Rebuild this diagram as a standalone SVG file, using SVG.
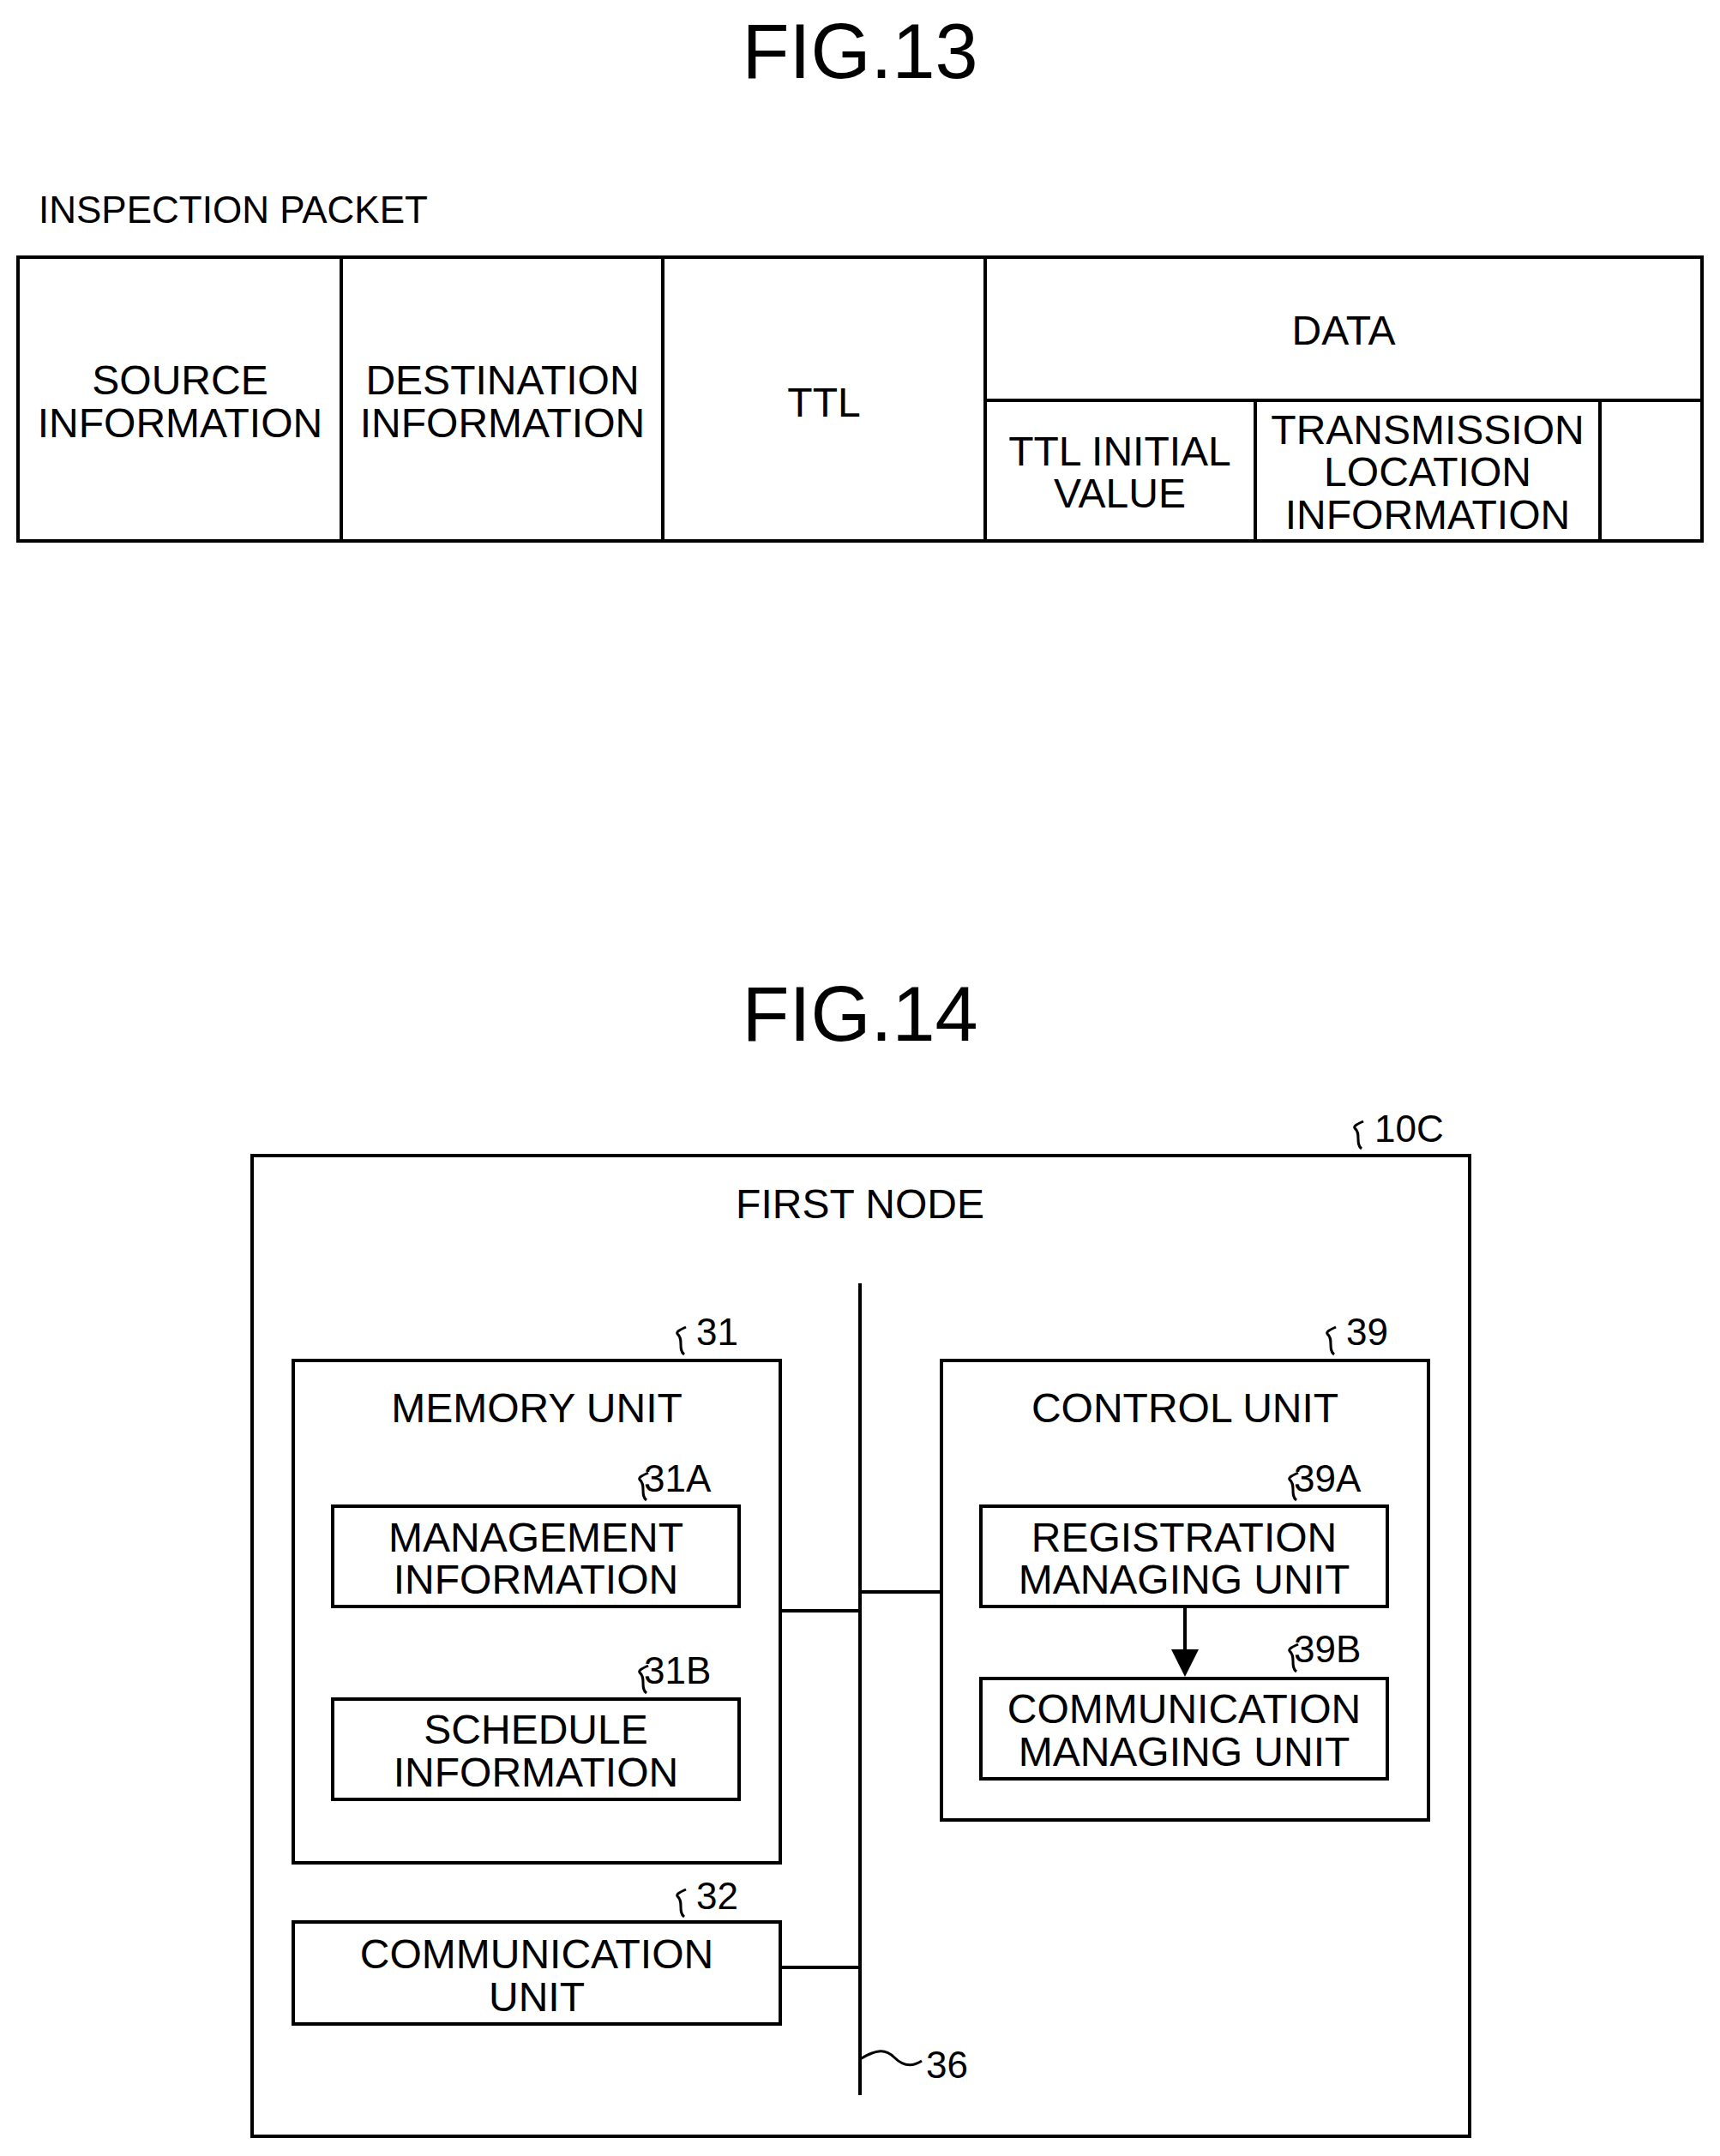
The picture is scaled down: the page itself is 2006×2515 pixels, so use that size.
<svg xmlns="http://www.w3.org/2000/svg" width="2006" height="2515" viewBox="0 0 2006 2515">
<style>
text{font-family:"Liberation Sans",Arial,sans-serif;fill:#000}
.t{font-size:48px;text-anchor:middle;dominant-baseline:central}
.ttl{font-size:90px;text-anchor:middle;dominant-baseline:central}
.lb{font-size:44px;dominant-baseline:central}
.b{fill:none;stroke:#000;stroke-width:4}
.l{fill:none;stroke:#000;stroke-width:4}
.s{fill:none;stroke:#000;stroke-width:3}
</style>
<defs><marker id="ar" markerWidth="8" markerHeight="8" refX="7" refY="4" orient="auto" markerUnits="strokeWidth"><path d="M0,0 L8,4 L0,8 z" fill="#000"/></marker></defs>
<g id="fig13">
<text class="ttl" x="1003" y="60">FIG.13</text>
<text class="lb" x="45" y="244">INSPECTION PACKET</text>
<rect class="b" x="21" y="300" width="1964" height="331"/>
<path class="l" d="M398,300V631M773,300V631M1149,300V631M1149,467H1985M1464,467V631M1866,467V631"/>
<text class="t" x="210" y="443">SOURCE</text><text class="t" x="210" y="493">INFORMATION</text>
<text class="t" x="586" y="443">DESTINATION</text><text class="t" x="586" y="493">INFORMATION</text>
<text class="t" x="961" y="469">TTL</text>
<text class="t" x="1567" y="385">DATA</text>
<text class="t" x="1306" y="526">TTL INITIAL</text><text class="t" x="1306" y="575">VALUE</text>
<text class="t" x="1665" y="501">TRANSMISSION</text><text class="t" x="1665" y="550">LOCATION</text><text class="t" x="1665" y="600">INFORMATION</text>
</g>
<g id="fig14">
<text class="ttl" x="1003" y="1183">FIG.14</text>
<g id="n10C"><rect class="b" x="294" y="1348" width="1420" height="1144"/><text class="t" x="1003" y="1404">FIRST NODE</text>
<path class="s" d="M1588,1340c-8,-6 0,-18 -8,-24c-2,-3 6,-6 10,-8"/><text class="lb" x="1603" y="1316">10C</text></g>
<g id="n31"><rect class="b" x="342" y="1587" width="568" height="586"/><text class="t" x="626" y="1642">MEMORY UNIT</text>
<path class="s" d="M798,1580c-8,-6 0,-18 -8,-24c-2,-3 6,-6 10,-8"/><text class="lb" x="812" y="1553">31</text></g>
<g id="n31A"><rect class="b" x="388" y="1757" width="474" height="117"/><text class="t" x="625" y="1793">MANAGEMENT</text><text class="t" x="625" y="1842">INFORMATION</text>
<path class="s" d="M754,1750c-8,-6 0,-18 -8,-24c-2,-3 6,-6 10,-8"/><text class="lb" x="751" y="1724">31A</text></g>
<g id="n31B"><rect class="b" x="388" y="1982" width="474" height="117"/><text class="t" x="625" y="2017">SCHEDULE</text><text class="t" x="625" y="2067">INFORMATION</text>
<path class="s" d="M754,1975c-8,-6 0,-18 -8,-24c-2,-3 6,-6 10,-8"/><text class="lb" x="751" y="1948">31B</text></g>
<g id="n32"><rect class="b" x="342" y="2242" width="568" height="119"/><text class="t" x="626" y="2279">COMMUNICATION</text><text class="t" x="626" y="2329">UNIT</text>
<path class="s" d="M798,2236c-8,-6 0,-18 -8,-24c-2,-3 6,-6 10,-8"/><text class="lb" x="812" y="2211">32</text></g>
<g id="n39"><rect class="b" x="1098" y="1587" width="568" height="536"/><text class="t" x="1382" y="1642">CONTROL UNIT</text>
<path class="s" d="M1556,1580c-8,-6 0,-18 -8,-24c-2,-3 6,-6 10,-8"/><text class="lb" x="1570" y="1553">39</text></g>
<g id="n39A"><rect class="b" x="1144" y="1757" width="474" height="117"/><text class="t" x="1381" y="1793">REGISTRATION</text><text class="t" x="1381" y="1842">MANAGING UNIT</text>
<path class="s" d="M1512,1750c-8,-6 0,-18 -8,-24c-2,-3 6,-6 10,-8"/><text class="lb" x="1509" y="1724">39A</text></g>
<g id="n39B"><rect class="b" x="1144" y="1958" width="474" height="117"/><text class="t" x="1381" y="1993">COMMUNICATION</text><text class="t" x="1381" y="2043">MANAGING UNIT</text>
<path class="s" d="M1512,1950c-8,-6 0,-18 -8,-24c-2,-3 6,-6 10,-8"/><text class="lb" x="1509" y="1923">39B</text></g>
<g id="n36"><path class="l" d="M1003,1497V2444"/><path class="s" d="M1003,2402c20,-12 30,-12 40,-2c10,10 20,12 32,4"/><text class="lb" x="1080" y="2408">36</text></g>
</g>
<g id="connectors">
<path class="l" d="M910,1879H1003M1003,1857H1098M910,2295H1003"/>
<path class="l" d="M1382,1874V1952" marker-end="url(#ar)"/>
</g>
</svg>
